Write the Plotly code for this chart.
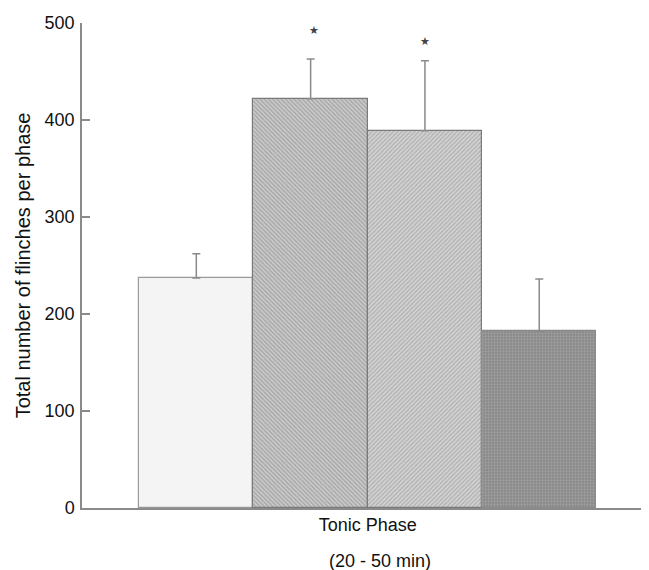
import plotly.graph_objects as go

groups = ["Group 1", "Group 2", "Group 3", "Group 4"]
xpos = [1, 2, 3, 4]
values = [237, 422, 389, 182]
errors = [25, 41, 72, 54]
star_x = [2.03, 3]
star_y = [491, 480]
y_ticks = [0, 100, 200, 300, 400, 500]

fills = ["#f4f4f4", "#cbcbcb", "#d4d4d4", "#888888"]
fgs = ["#f4f4f4", "#808080", "#8e8e8e", "#b6b6b6"]
shapes = ["", "\\", "/", "."]
lines = ["#9a9a9a", "#7a7a7a", "#7a7a7a", "#8a8a8a"]

fig = go.Figure()
for i in range(4):
    fig.add_trace(go.Bar(
        x=[xpos[i]], y=[values[i]], width=1.0,
        name=groups[i],
        marker=dict(color=fills[i],
                    line=dict(color=lines[i], width=1.2),
                    pattern=dict(shape=shapes[i], bgcolor=fills[i], fgcolor=fgs[i],
                                 size=3, solidity=0.45)),
        error_y=dict(type="data", array=[errors[i]], arrayminus=[0], symmetric=False,
                     color="#8a8a8a", thickness=1.5, width=4),
        showlegend=False,
    ))

fig.add_trace(go.Scatter(
    x=star_x, y=star_y, mode="text", text=["★", "★"],
    textposition="middle center",
    textfont=dict(size=11, color="#444444", family="DejaVu Sans"),
    showlegend=False, hoverinfo="skip",
))

fig.add_annotation(
    text="(20 - 50 min)", xref="paper", yref="paper",
    x=(372 - 74) / 567, y=-(553 - 500) / 485, xanchor="center", yanchor="middle",
    showarrow=False, font=dict(size=18, color="#111111"),
)

fig.update_layout(
    width=641, height=562,
    margin=dict(l=74, r=0, t=15, b=62),
    plot_bgcolor="white", paper_bgcolor="white",
    font=dict(family="Liberation Sans, Arial, sans-serif", size=18, color="#111111"),
    bargap=0,
)
fig.update_xaxes(
    range=[0.0, 4.96], showgrid=False, zeroline=False,
    showline=True, linecolor="#8a8a8a", linewidth=1.5,
    tickvals=[2.5], ticktext=["Tonic Phase"], ticks="",
    tickfont=dict(size=18),
)
fig.update_yaxes(
    range=[0, 500], showgrid=False, zeroline=False,
    showline=True, linecolor="#8a8a8a", linewidth=1.5,
    tickvals=y_ticks, ticks="inside", ticklen=8, tickcolor="#8a8a8a", tickwidth=1.5,
    tickfont=dict(size=18), ticklabelstandoff=2,
    title=dict(text="Total number of flinches per phase", standoff=9, font=dict(size=20)),
)

fig.write_html("out.html")
